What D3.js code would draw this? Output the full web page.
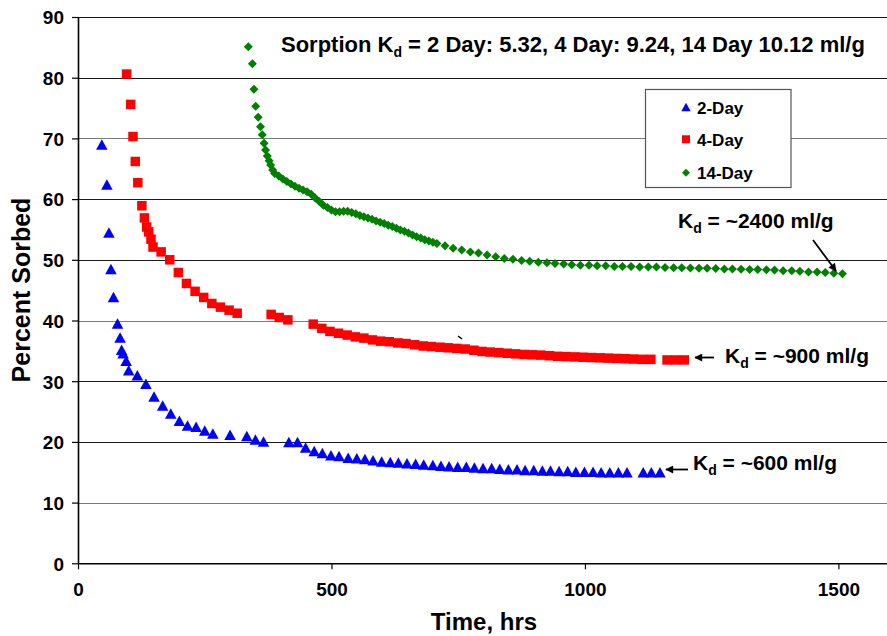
<!DOCTYPE html>
<html><head><meta charset="utf-8">
<script src="https://cdn.jsdelivr.net/npm/d3@7"></script>
<style>body{margin:0;background:#fff}svg{display:block;font-family:"Liberation Sans",Arial,sans-serif;font-weight:bold}</style>
</head><body><svg id="c" width="887" height="636"></svg>
<script>
const xTicks = [0, 500, 1000, 1500];
const yTicks = [0, 10, 20, 30, 40, 50, 60, 70, 80, 90];
const seriesNames = ["2-Day", "4-Day", "14-Day"];

const day2Time = [47,57,61,65,70,78,83,86,89,95,100,117,134,150,167,183,200,216,233,250,266,300,333,350,366,416,433,449,466,482,499,515,533,550,566,582,599,616,632,649,666,682,700,716,732,749,766,782,799,816,832,849,866,882,899,916,932,949,966,982,999,1016,1032,1049,1066,1083,1115,1131,1148];
const day2Pct = [68.9,62.3,54.4,48.4,43.8,39.4,37.1,35.1,34.5,33.3,31.7,30.9,29.5,27.4,25.9,24.6,23.4,22.6,22.4,21.8,21.3,21.1,20.9,20.3,20.0,19.9,19.9,19.0,18.4,18.1,17.7,17.6,17.3,17.2,17.1,16.9,16.7,16.6,16.5,16.4,16.3,16.2,16.1,16.0,15.9,15.8,15.8,15.7,15.6,15.6,15.5,15.4,15.4,15.3,15.3,15.2,15.2,15.1,15.1,15.0,15.0,15.0,14.9,14.9,14.9,14.9,14.9,14.9,14.9];

const day4Time = [96,104,108.5,113,118,126,131,135.5,139.5,144,148,164,181,198,214,231,248,264,281,298,314,381,397,414,464,481,497,514,531,547,564,581,597,614,631,647,664,681,697,714,730,747,764,781,797,813,830,847,863,880,896,913,930,946,963,980,996,1013,1030,1046,1063,1080,1096,1113,1130,1162,1179,1196];
const day4Pct = [80.6,75.6,70.3,66.2,62.7,58.9,56.9,55.4,54.6,53.4,52.1,51.3,50.0,47.9,46.1,44.8,43.8,42.8,42.2,41.7,41.2,41.0,40.5,40.1,39.4,38.7,38.2,37.9,37.6,37.3,37.1,36.8,36.6,36.5,36.3,36.2,36.0,35.8,35.7,35.6,35.5,35.4,35.3,35.1,34.9,34.8,34.7,34.6,34.5,34.4,34.35,34.3,34.2,34.1,34.05,34.0,33.95,33.9,33.85,33.8,33.75,33.7,33.65,33.6,33.6,33.5,33.5,33.5];

const day14Time = [336,344,347,350.5,355.5,360,363.5,367,370,373.5,377,380,384,388,
396,404,412,420,428,436,444,452,460,468,476,484,492,500,508,516,524,532,540,548,556,564,572,580,588,596,604,612,620,628,636,644,652,660,668,676,684,692,700,708,
724,740,757,774,790,807,824,841,858,875,891,908,925,941,958,974,991,1008,1024,1041,1058,1074,1091,1108,1125,
1141,1158,1175,1191,1208,1225,1241,1258,1275,1291,1308,1325,1341,1358,1374,1391,1408,1424,1441,1458,1474,1491,1508];
const day14Pct = [85.1,82.3,78.1,75.3,73.5,71.9,70.6,69.2,68.1,67.1,66.3,65.6,64.8,64.2,
63.8,63.3,62.9,62.5,62.1,61.8,61.5,61.2,60.8,60.2,59.6,59.0,58.6,58.2,57.9,57.9,58.0,58.0,57.8,57.6,57.3,57.1,56.9,56.7,56.4,56.2,56.0,55.7,55.5,55.2,54.9,54.7,54.4,54.1,53.8,53.6,53.3,53.1,52.9,52.7,
52.3,51.9,51.6,51.3,51.1,50.8,50.5,50.2,50.1,49.9,49.75,49.6,49.5,49.4,49.3,49.2,49.1,49.1,49.0,49.0,48.9,48.9,48.9,48.8,48.8,
48.8,48.75,48.7,48.7,48.65,48.6,48.6,48.55,48.5,48.5,48.45,48.4,48.4,48.35,48.3,48.2,48.2,48.1,48.0,48.0,47.9,47.8,47.7];

const svg = d3.select("#c");
const x = d3.scaleLinear().domain([0, 1600]).range([78, 889.1]);
const y = d3.scaleLinear().domain([0, 90]).range([563.3, 17]);

// gridlines
svg.append("g").selectAll("line").data(yTicks.filter(d => d > 0)).join("line")
  .attr("x1", x(0)).attr("x2", 887).attr("y1", d => Math.round(y(d)) + 0.5).attr("y2", d => Math.round(y(d)) + 0.5)
  .attr("stroke", (d) => (d === 70 || d === 40 || d === 10) ? "#7a7a7a" : "#1a1a1a").attr("stroke-width", 1.2);

// axes
const yAxis = d3.axisLeft(y).tickValues(yTicks).tickSize(6).tickPadding(8).tickSizeOuter(0);
const gy = svg.append("g").attr("transform", `translate(${x(0)},0)`).call(yAxis);
gy.select(".domain").attr("stroke", "#000").attr("stroke-width", 1.6);
gy.selectAll(".tick line").attr("stroke", "#000").attr("stroke-width", 1.2);
gy.selectAll(".tick text").attr("font-size", 19).attr("font-weight", "bold").attr("fill", "#000")
  .attr("font-family", "Liberation Sans, Arial, sans-serif").attr("dy", "0.36em");

const xAxis = d3.axisBottom(x).tickValues(xTicks).tickFormat(d3.format("d")).tickSize(6).tickPadding(13).tickSizeOuter(0);
const gx = svg.append("g").attr("transform", `translate(0,${y(0)})`).call(xAxis);
gx.select(".domain").attr("stroke", "#000").attr("stroke-width", 1.6);
gx.selectAll(".tick line").attr("stroke", "#000").attr("stroke-width", 1.2);
gx.selectAll(".tick text").attr("font-size", 19).attr("font-weight", "bold").attr("fill", "#000")
  .attr("font-family", "Liberation Sans, Arial, sans-serif");

// axis titles
svg.append("text").attr("x", 484).attr("y", 630).attr("text-anchor", "middle").attr("font-size", 24).text("Time, hrs");
svg.append("text").attr("transform", "translate(30,290) rotate(-90)").attr("text-anchor", "middle").attr("font-size", 25).text("Percent Sorbed");

// marker shapes
const tri = (s) => `M0,${-s*0.55}L${s*0.55},${s*0.45}L${-s*0.55},${s*0.45}Z`;
const sq = (s) => `M${-s/2},${-s/2}h${s}v${s}h${-s}Z`;
const dia = (s) => `M0,${-s/2}L${s/2},0L0,${s/2}L${-s/2},0Z`;

function plot(times, vals, path, color) {
  svg.append("g").selectAll("path").data(times.map((t, i) => [t, vals[i]])).join("path")
    .attr("d", path).attr("fill", color)
    .attr("transform", d => `translate(${x(d[0])},${y(d[1])})`);
}
plot(day2Time, day2Pct, tri(10.5), "#0000ff");
plot(day4Time, day4Pct, sq(9.5), "#ff0000");
plot(day14Time, day14Pct, dia(9), "#008000");

// stray tick mark
svg.append("path").attr("d", "M458,336 L462,339").attr("stroke", "#000").attr("stroke-width", 1.5);

// title
const title = svg.append("text").attr("x", 281).attr("y", 52).attr("font-size", 22);
title.append("tspan").text("Sorption K");
title.append("tspan").attr("dy", 5).attr("font-size", 14).text("d");
title.append("tspan").attr("dy", -5).text(" = 2 Day: 5.32, 4 Day: 9.24, 14 Day 10.12 ml/g");

// legend
svg.append("rect").attr("x", 645.5).attr("y", 89.5).attr("width", 145.5).attr("height", 98)
  .attr("fill", "#fff").attr("stroke", "#555").attr("stroke-width", 1.2);
const legY = [107.3, 139.3, 172.7];
const legShapes = [tri(8.5), sq(8), dia(8)];
const legColors = ["#0000ff", "#ff0000", "#008000"];
seriesNames.forEach((n, i) => {
  svg.append("path").attr("d", legShapes[i]).attr("fill", legColors[i]).attr("transform", `translate(686,${legY[i]})`);
  svg.append("text").attr("x", 697).attr("y", legY[i] + 6.2).attr("font-size", 17).text(n);
});

// annotations
function kdLabel(xx, yy, val) {
  const t = svg.append("text").attr("x", xx).attr("y", yy).attr("font-size", 21);
  t.append("tspan").text("K");
  t.append("tspan").attr("dy", 5).attr("font-size", 14).text("d");
  t.append("tspan").attr("dy", -5).text(" = ~" + val + " ml/g");
}
kdLabel(678, 228, "2400");
kdLabel(725, 363, "900");
kdLabel(693, 470, "600");

const defs = svg.append("defs");
defs.append("marker").attr("id", "ah").attr("viewBox", "0 0 10 10").attr("refX", 9).attr("refY", 5)
  .attr("markerWidth", 10).attr("markerHeight", 8).attr("markerUnits", "userSpaceOnUse").attr("orient", "auto")
  .append("path").attr("d", "M0,0L10,5L0,10Z").attr("fill", "#000");
function arrow(x1, y1, x2, y2) {
  svg.append("line").attr("x1", x1).attr("y1", y1).attr("x2", x2).attr("y2", y2)
    .attr("stroke", "#000").attr("stroke-width", 1.8).attr("marker-end", "url(#ah)");
}
arrow(813, 240, 836, 271);
arrow(714, 357.5, 695, 357.5);
arrow(688, 469.5, 666, 469.5);
</script></body></html>
